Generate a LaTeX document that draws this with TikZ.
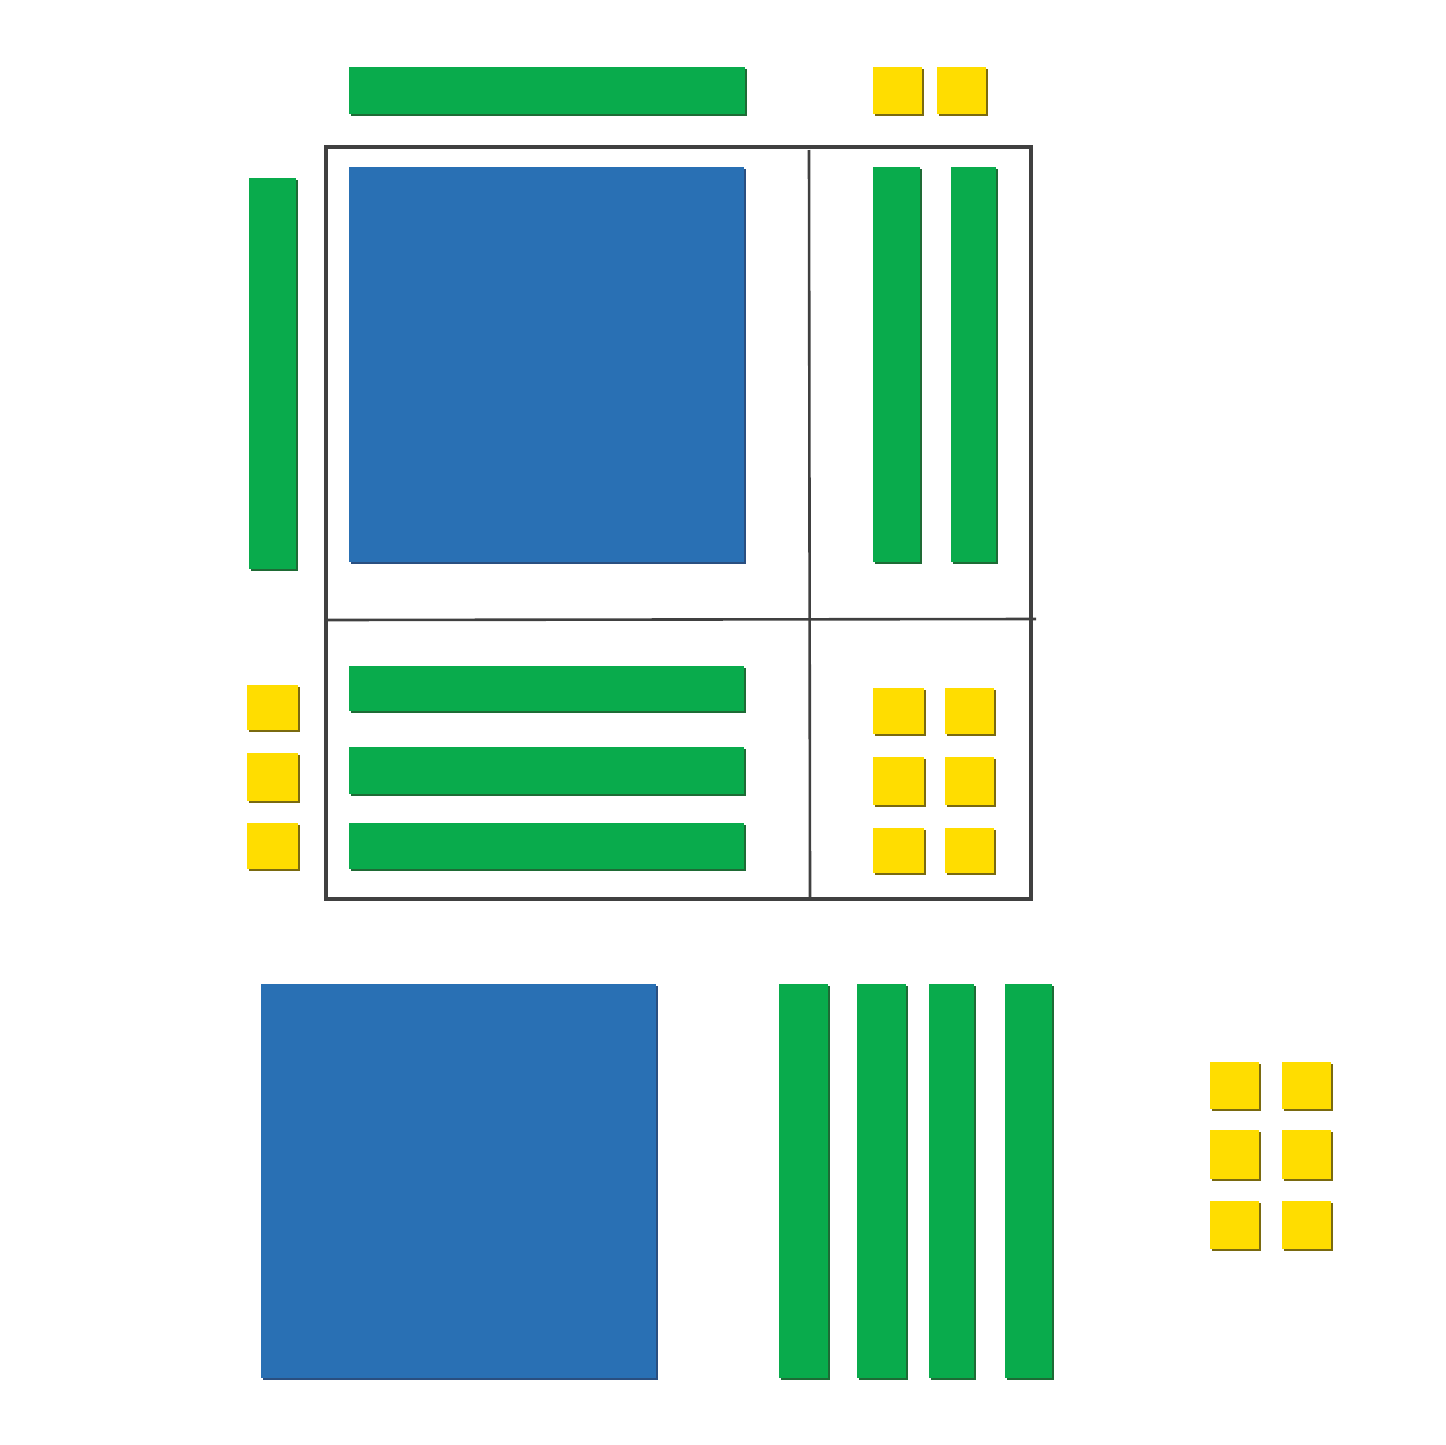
\documentclass[tikz,border=0pt]{standalone}
\definecolor{tblue}{HTML}{2970B4}
\definecolor{tgreen}{HTML}{09AB4C}
\definecolor{tyellow}{HTML}{FFDD00}
\definecolor{sgreen}{HTML}{1E6B35}
\definecolor{syellow}{HTML}{7A6A10}
\definecolor{sblue}{HTML}{2A4F80}
\definecolor{frame}{HTML}{404040}
\newcommand\atile[6]{%
  \fill[#6] (#1+2,#2+2) rectangle (#3+2,#4+2);
  \fill[#5] (#1,#2) rectangle (#3,#4);}
\begin{document}
\begin{tikzpicture}[x=1pt,y=-1pt]
\useasboundingbox (0,0) rectangle (1445,1445);
\fill[white] (0,0) rectangle (1445,1445);
\tikzset{frameline/.style={draw=frame,line width=3.6pt}, divline/.style={draw=frame,line width=2.6pt}}
% frame
\draw[frameline] (326,147) rectangle (1031,899);
\draw[divline] (809,150) -- (810,897);
\draw[divline] (328,620) -- (1036,619);
% top row
\atile{349}{67}{745}{114}{tgreen}{sgreen}
\atile{873}{67}{922}{114}{tyellow}{syellow}
\atile{937}{67}{986}{114}{tyellow}{syellow}
% left column
\atile{249}{178}{296}{569}{tgreen}{sgreen}
\atile{247}{685}{298}{730}{tyellow}{syellow}
\atile{247}{753}{298}{801}{tyellow}{syellow}
\atile{247}{823}{298}{869}{tyellow}{syellow}
% inside frame
\atile{349}{167}{744}{562}{tblue}{sblue}
\atile{873}{167}{920}{562}{tgreen}{sgreen}
\atile{951}{167}{996}{562}{tgreen}{sgreen}
\atile{349}{666}{744}{711}{tgreen}{sgreen}
\atile{349}{747}{744}{794}{tgreen}{sgreen}
\atile{349}{823}{744}{869}{tgreen}{sgreen}
\atile{873}{688}{924}{734}{tyellow}{syellow}
\atile{945}{688}{994}{734}{tyellow}{syellow}
\atile{873}{757}{924}{805}{tyellow}{syellow}
\atile{945}{757}{994}{805}{tyellow}{syellow}
\atile{873}{828}{924}{873}{tyellow}{syellow}
\atile{945}{828}{994}{873}{tyellow}{syellow}
% bottom
\atile{261}{984}{656}{1378}{tblue}{sblue}
\atile{779}{984}{828}{1378}{tgreen}{sgreen}
\atile{857}{984}{906}{1378}{tgreen}{sgreen}
\atile{929}{984}{974}{1378}{tgreen}{sgreen}
\atile{1005}{984}{1052}{1378}{tgreen}{sgreen}
\atile{1210}{1062}{1259}{1109}{tyellow}{syellow}
\atile{1282}{1062}{1331}{1109}{tyellow}{syellow}
\atile{1210}{1130}{1259}{1179}{tyellow}{syellow}
\atile{1282}{1130}{1331}{1179}{tyellow}{syellow}
\atile{1210}{1201}{1259}{1249}{tyellow}{syellow}
\atile{1282}{1201}{1331}{1249}{tyellow}{syellow}
\end{tikzpicture}
\end{document}
